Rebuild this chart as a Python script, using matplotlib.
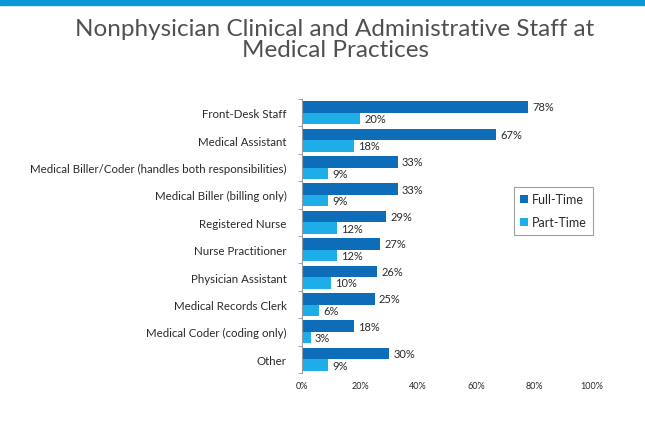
import matplotlib
matplotlib.use("Agg")
import matplotlib.pyplot as plt
import numpy as np
from matplotlib.patches import Rectangle

categories = ["Front-Desk Staff", "Medical Assistant",
              "Medical Biller/Coder (handles both responsibilities)",
              "Medical Biller (billing only)", "Registered Nurse",
              "Nurse Practitioner", "Physician Assistant",
              "Medical Records Clerk", "Medical Coder (coding only)", "Other"]
full_time = [78, 67, 33, 33, 29, 27, 26, 25, 18, 30]
part_time = [20, 18, 9, 9, 12, 12, 10, 6, 3, 9]
xticks = [0, 20, 40, 60, 80, 100]
title = "Nonphysician Clinical and Administrative Staff at\nMedical Practices"

plt.rcParams['font.family'] = ['Lato', 'DejaVu Sans']

dark = "#0D6DB8"
light = "#1DADE8"
txt = "#2a2a2a"

fig = plt.figure(figsize=(6.45, 4.39), dpi=100)
fig.patch.set_facecolor("white")
fig.patches.append(Rectangle((0, 1 - 6/439), 1, 6/439, transform=fig.transFigure,
                             color="#0A98DA", zorder=0))

ax = fig.add_axes([302/645, 1 - 374/439, 290/645, 274/439])
y = np.arange(len(categories))
h = 0.42
ax.barh(y - h/2, full_time, height=h, color=dark, label="Full-Time")
ax.barh(y + h/2, part_time, height=h, color=light, label="Part-Time")
for i in range(len(categories)):
    ax.text(full_time[i] + 1.5, y[i] - h/2, f"{full_time[i]}%", va="center", ha="left",
            fontsize=8, color=txt)
    ax.text(part_time[i] + 1.5, y[i] + h/2, f"{part_time[i]}%", va="center", ha="left",
            fontsize=8, color=txt)

ax.set_ylim(len(categories) - 0.5, -0.5)
ax.set_xlim(0, 100)
ax.set_yticks(y)
ax.set_yticklabels(categories, fontsize=8.3, color=txt)
ax.set_yticks(np.arange(-0.5, len(categories) + 0.5, 1), minor=True)
ax.tick_params(axis="y", which="major", length=0, pad=11)
ax.tick_params(axis="y", which="minor", length=3, color="#999999")
ax.set_xticks(xticks)
ax.set_xticklabels([f"{t}%" for t in xticks], fontsize=6.5, color=txt)
ax.tick_params(axis="x", length=0, pad=6)
for s in ["top", "right", "bottom"]:
    ax.spines[s].set_visible(False)
ax.spines["left"].set_color("#999999")
ax.spines["left"].set_linewidth(0.8)

leg = ax.legend(loc="upper left", bbox_to_anchor=(212/290, 1 - 88/274), fontsize=9,
                frameon=True, fancybox=False, handlelength=0.6, handleheight=0.6,
                handletextpad=0.3, labelspacing=0.9, borderpad=0.5, borderaxespad=0)
leg.get_frame().set_edgecolor("#888888")
leg.get_frame().set_linewidth(0.8)
for t in leg.get_texts():
    t.set_color(txt)

fig.text(335/645, 1 - 40/439, title, ha="center", va="center", fontsize=17.5,
         color="#505050", linespacing=0.95)

fig.savefig("out.png", dpi=100)
